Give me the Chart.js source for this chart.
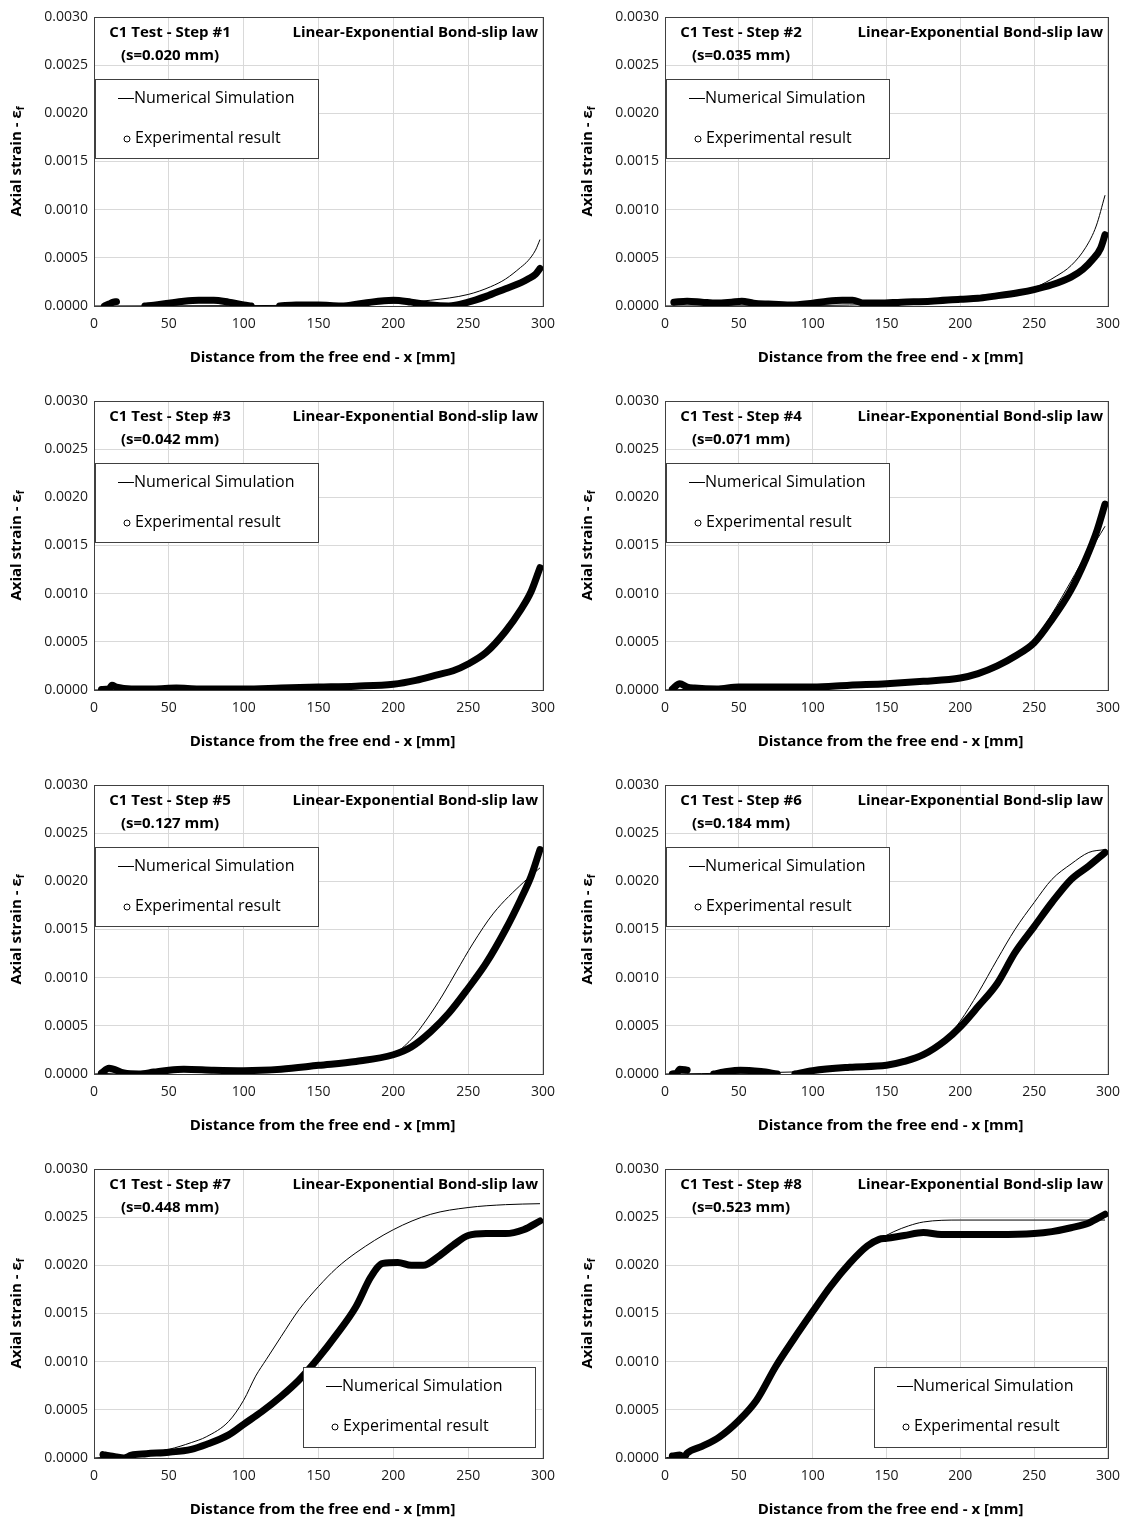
<!DOCTYPE html>
<html>
<head>
<meta charset="utf-8">
<script src="https://cdn.jsdelivr.net/npm/chart.js@4.4.1/dist/chart.umd.min.js"></script>
<style>
  body { margin: 0; background: #fff; overflow: hidden; }
  #wrap { position: relative; width: 1130px; height: 1522px; }
  canvas { position: absolute; }
</style>
</head>
<body>
<div id="wrap"></div>
<script>
// labels
const stepLabels = ["C1 Test - Step #1", "C1 Test - Step #2", "C1 Test - Step #3", "C1 Test - Step #4",
  "C1 Test - Step #5", "C1 Test - Step #6", "C1 Test - Step #7", "C1 Test - Step #8"];
const slipLabels = ["(s=0.020 mm)", "(s=0.035 mm)", "(s=0.042 mm)", "(s=0.071 mm)",
  "(s=0.127 mm)", "(s=0.184 mm)", "(s=0.448 mm)", "(s=0.523 mm)"];
const lawLabel = "Linear-Exponential Bond-slip law";
const seriesNames = ["Numerical Simulation", "Experimental result"];
const xTitle = "Distance from the free end - x [mm]";
const yTitle = "Axial strain - ε";
const yTitleSub = "f";

// [x (mm), strain]; null = gap in the measurements
const num1 = [[0,0],[50,0.000002],[100,0.000004],[150,0.00001],[200,0.00003],[225,0.00006],[250,0.00012],[265,0.0002],[275,0.00028],[285,0.0004],[290,0.00047],[295,0.00058],[298,0.00069]];
const exp1 = [[7,0],[10,0.00002],[13,0.00004],[15,0.000045],[16,null],[34,0],[40,0.000008],[50,0.00003],[60,0.00005],[70,0.00006],[80,0.00006],[90,0.00004],[100,0.000012],[105,0],[110,null],[124,0],[135,0.00001],[150,0.00001],[165,0],[180,0.00003],[200,0.00006],[212,0.00004],[225,0.00001],[237,0],[250,0.00004],[262,0.0001],[275,0.00018],[285,0.00024],[290,0.00028],[295,0.00033],[298,0.00039]];

const num2 = [[0,0],[100,0.000005],[150,0.00002],[200,0.00006],[225,0.00011],[250,0.00019],[265,0.00031],[275,0.00042],[285,0.00061],[292,0.00083],[298,0.00115]];
const exp2 = [[6,0.00004],[15,0.00005],[25,0.00004],[35,0.00003],[45,0.00004],[52,0.00005],[60,0.00003],[70,0.00002],[85,0.00001],[100,0.00003],[110,0.00005],[120,0.00006],[127,0.00006],[135,0.00003],[145,0.00003],[160,0.00004],[180,0.00005],[200,0.00007],[212,0.00008],[222,0.0001],[240,0.00014],[250,0.00017],[262,0.00022],[275,0.0003],[283,0.00038],[290,0.00049],[295,0.0006],[298,0.00074]];

const num3 = [[0,0],[50,0.00001],[100,0.00002],[150,0.00003],[200,0.00006],[215,0.0001],[230,0.00016],[240,0.00021],[250,0.00028],[262,0.00041],[275,0.00063],[285,0.00085],[292,0.00102],[298,0.00123]];
const exp3 = [[5,0.000005],[10,0.00001],[12,0.00005],[15,0.00003],[25,0.00001],[40,0.00001],[55,0.00002],[70,0.00001],[100,0.00001],[125,0.00002],[150,0.00003],[175,0.00004],[200,0.00006],[215,0.0001],[230,0.00016],[240,0.0002],[250,0.00027],[262,0.00039],[275,0.00061],[285,0.00083],[292,0.00102],[298,0.00127]];

const num4 = [[0,0],[50,0.00002],[100,0.00003],[150,0.00006],[200,0.00012],[225,0.00026],[237,0.00037],[250,0.00052],[262,0.00079],[275,0.00113],[285,0.0014],[292,0.00155],[298,0.0017]];
const exp4 = [[5,0.00001],[10,0.000065],[15,0.00003],[20,0.00002],[35,0.00001],[50,0.00003],[75,0.00003],[100,0.00003],[125,0.00005],[150,0.000065],[175,0.00009],[200,0.000125],[212,0.00017],[225,0.00025],[237,0.00035],[250,0.00049],[262,0.00073],[275,0.00104],[285,0.00136],[292,0.00163],[298,0.00193]];

const num5 = [[0,0],[50,0.00003],[100,0.00004],[150,0.00009],[200,0.00021],[212,0.00036],[222,0.00056],[233,0.00082],[242,0.00106],[253,0.00135],[267,0.00167],[287,0.00199],[298,0.00214]];
const exp5 = [[5,0.00001],[10,0.00006],[20,0.00001],[30,0],[40,0.00002],[50,0.00004],[60,0.00005],[80,0.00004],[100,0.000035],[125,0.00005],[150,0.00009],[175,0.00013],[200,0.0002],[212,0.00028],[225,0.00044],[237,0.00063],[250,0.00089],[262,0.00115],[275,0.0015],[285,0.00181],[292,0.00205],[298,0.00233]];

const num6 = [[0,0],[50,0.00001],[100,0.00003],[150,0.0001],[175,0.0002],[190,0.00036],[200,0.00055],[212,0.00084],[225,0.00119],[237,0.0015],[250,0.00178],[262,0.00202],[275,0.00218],[287,0.0023],[298,0.00233]];
const exp6 = [[5,0],[8,0.00001],[10,0.00005],[15,0.00004],[16,null],[33,0],[40,0.00002],[51,0.00004],[65,0.000025],[76,0],[80,null],[88,0],[100,0.000035],[125,0.00007],[150,0.00009],[162,0.00013],[175,0.0002],[190,0.00035],[200,0.00049],[212,0.0007],[225,0.00094],[237,0.00126],[250,0.00153],[262,0.00178],[275,0.00202],[287,0.00216],[298,0.0023]];

const num7 = [[0,0],[25,0.00003],[50,0.00009],[65,0.00016],[75,0.00022],[90,0.00038],[100,0.0006],[108,0.00085],[115,0.00102],[125,0.00126],[137,0.00154],[150,0.00178],[162,0.00197],[175,0.00213],[200,0.00237],[225,0.00253],[250,0.0026],[275,0.00263],[298,0.00264]];
const exp7 = [[6,0.000035],[10,0.000025],[15,0.00001],[20,0],[25,0.00003],[35,0.000045],[50,0.00006],[65,0.00009],[75,0.00014],[90,0.00024],[100,0.00035],[112,0.00048],[125,0.00064],[137,0.00081],[150,0.00104],[162,0.00128],[175,0.00157],[185,0.00188],[193,0.00202],[203,0.00203],[212,0.002],[220,0.002],[230,0.00209],[240,0.00221],[250,0.00231],[262,0.00233],[275,0.00233],[287,0.00237],[298,0.00246]];

const num8 = [[0,0],[10,0.00003],[25,0.00011],[37,0.0002],[50,0.00037],[62,0.00058],[75,0.0009],[87,0.0012],[100,0.0015],[112,0.00177],[125,0.00201],[137,0.0022],[145,0.00227],[155,0.00235],[165,0.00241],[175,0.00245],[200,0.00247],[250,0.00247],[298,0.00247]];
const exp8 = [[5,0.00002],[10,0.00003],[13,0.00001],[15,0.00005],[25,0.00012],[37,0.00022],[50,0.00039],[62,0.0006],[75,0.00095],[87,0.00123],[100,0.00152],[112,0.00178],[125,0.00202],[137,0.0022],[145,0.00227],[150,0.00228],[162,0.00231],[175,0.00234],[187,0.00232],[200,0.00232],[225,0.00232],[250,0.00233],[262,0.00235],[275,0.00239],[287,0.00244],[298,0.00253]];

const numSeries = [num1, num2, num3, num4, num5, num6, num7, num8];
const expSeries = [exp1, exp2, exp3, exp4, exp5, exp6, exp7, exp8];

const FONT = "'Open Sans', sans-serif";

function toPts(arr) {
  return arr.map(([x, y]) => ({ x: x, y: y }));
}

// titles, legend box, frame and axis titles drawn on top of the chart
const panelDecor = {
  id: "panelDecor",
  afterDraw(chart, args, opts) {
    const ctx = chart.ctx;
    const a = chart.chartArea;
    const i = opts.index;
    ctx.save();

    // plot frame
    ctx.strokeStyle = "#404040";
    ctx.lineWidth = 1;
    ctx.strokeRect(Math.round(a.left) + 0.5, Math.round(a.top) + 0.5,
      Math.round(a.right - a.left), Math.round(a.bottom - a.top));

    // headings
    ctx.fillStyle = "#000";
    ctx.textBaseline = "middle";
    ctx.font = "bold 15px " + FONT;
    ctx.textAlign = "center";
    ctx.fillText(stepLabels[i], a.left + 76, a.top + 16);
    ctx.fillText(slipLabels[i], a.left + 76, a.top + 39);
    ctx.textAlign = "right";
    ctx.fillText(lawLabel, a.right - 5, a.top + 16);

    // legend box
    let bx, by, bw, bh;
    if (i < 6) { bx = a.left + 1; by = a.top + 62; bw = 223; bh = 79; }
    else { bx = a.left + 209; by = a.top + 198; bw = 232; bh = 80; }
    ctx.fillStyle = "#fff";
    ctx.fillRect(bx, by, bw, bh);
    ctx.strokeStyle = "#404040";
    ctx.strokeRect(Math.round(bx) + 0.5, Math.round(by) + 0.5, bw, bh);
    const l1 = by + 19, l2 = by + 59, lx = bx + 23;
    ctx.strokeStyle = "#000";
    ctx.beginPath();
    ctx.moveTo(lx, Math.round(l1) + 0.5);
    ctx.lineTo(lx + 16, Math.round(l1) + 0.5);
    ctx.stroke();
    ctx.beginPath();
    ctx.arc(lx + 9, l2 + 1, 3, 0, Math.PI * 2);
    ctx.stroke();
    ctx.fillStyle = "#000";
    ctx.textAlign = "left";
    ctx.font = "16px " + FONT;
    ctx.fillText(seriesNames[0], lx + 16, l1);
    ctx.fillText(seriesNames[1], lx + 17, l2);

    // x axis title
    ctx.font = "bold 15px " + FONT;
    ctx.textAlign = "center";
    ctx.fillText(xTitle, (a.left + a.right) / 2 + 4, a.bottom + 52);

    // y axis title with subscript
    ctx.translate(a.left - 77, (a.top + a.bottom) / 2);
    ctx.rotate(-Math.PI / 2);
    ctx.font = "bold 15px " + FONT;
    const w1 = ctx.measureText(yTitle).width;
    ctx.font = "bold 10px " + FONT;
    const w2 = ctx.measureText(yTitleSub).width;
    const start = -(w1 + w2) / 2;
    ctx.textAlign = "left";
    ctx.font = "bold 15px " + FONT;
    ctx.fillText(yTitle, start, 0);
    ctx.font = "bold 10px " + FONT;
    ctx.fillText(yTitleSub, start + w1, 4);
    ctx.restore();
  }
};

const colLeft = [0, 571];
const colWidth = [565, 559];
const rowTop = [0, 384, 768, 1152];

for (let i = 0; i < 8; i++) {
  const col = i % 2, row = Math.floor(i / 2);
  const canvas = document.createElement("canvas");
  canvas.width = colWidth[col];
  canvas.height = 384;
  canvas.style.left = colLeft[col] + "px";
  canvas.style.top = rowTop[row] + "px";
  canvas.style.width = colWidth[col] + "px";
  canvas.style.height = "384px";
  document.getElementById("wrap").appendChild(canvas);

  new Chart(canvas.getContext("2d"), {
    type: "scatter",
    data: {
      datasets: [
        {
          label: seriesNames[0],
          data: toPts(numSeries[i]),
          showLine: true,
          borderColor: "#000",
          borderWidth: 1,
          pointRadius: 0,
          cubicInterpolationMode: "monotone",
          spanGaps: false,
        },
        {
          label: seriesNames[1],
          data: toPts(expSeries[i]),
          showLine: true,
          borderColor: "#000",
          borderWidth: 7,
          borderCapStyle: "round",
          borderJoinStyle: "round",
          pointRadius: 0,
          cubicInterpolationMode: "monotone",
          spanGaps: false,
        },
      ],
    },
    options: {
      responsive: false,
      animation: false,
      devicePixelRatio: 1,
      layout: { padding: { top: 17, right: colWidth[col] - (col === 0 ? 543 : 542), left: 0, bottom: 0 } },
      plugins: {
        legend: { display: false },
        tooltip: { enabled: false },
        panelDecor: { index: i },
      },
      scales: {
        x: {
          type: "linear",
          min: 0,
          max: 300,
          ticks: { stepSize: 50, padding: 10, color: "#1a1a1a", font: { family: FONT, size: 14 } },
          grid: { color: "#d9d9d9", drawTicks: false },
          border: { display: false },
          afterFit(s) { s.height = 78; },
        },
        y: {
          min: 0,
          max: 0.003,
          ticks: {
            stepSize: 0.0005,
            padding: 6,
            color: "#1a1a1a",
            font: { family: FONT, size: 14 },
            callback: (v) => v.toFixed(4),
          },
          grid: { color: "#d9d9d9", drawTicks: false },
          border: { display: false },
          afterFit(s) { s.width = 94; },
        },
      },
    },
    plugins: [panelDecor],
  });
}
</script>
</body>
</html>
